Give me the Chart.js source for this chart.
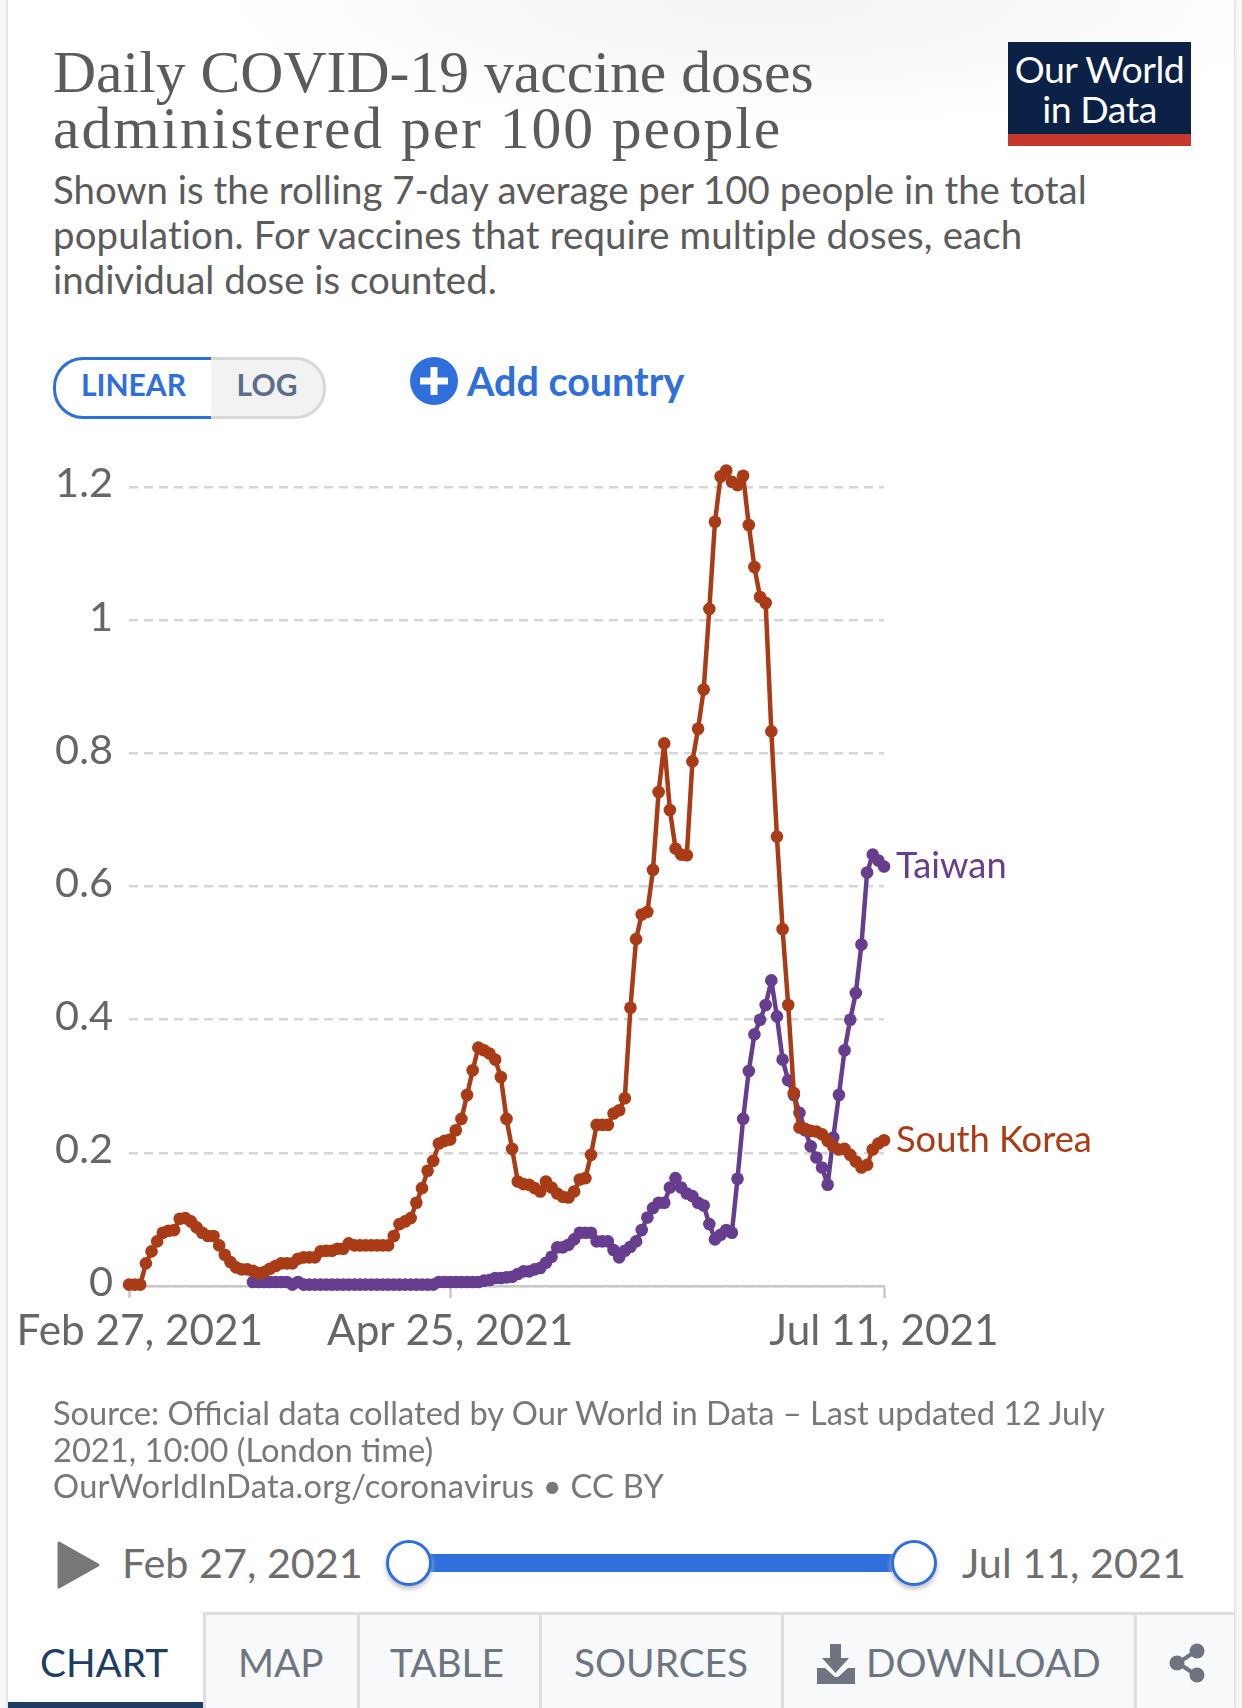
<!doctype html>
<html lang="en">
<head>
<meta charset="utf-8">
<title>Daily COVID-19 vaccine doses administered per 100 people</title>
<style>
  html, body { margin: 0; padding: 0; }
  body { width: 1242px; height: 1708px; background: #f7f7f7; position: relative; overflow: hidden; font-family: Lato, sans-serif; }
  #card { position: absolute; left: 8px; top: 0; width: 1226px; height: 1708px; background: #fff; box-shadow: 0 0 3px #bbb; }
  #glow { position: absolute; left: 8px; top: 0; width: 1226px; height: 130px; background: radial-gradient(ellipse 560px 130px at 62% 0, #f3f3f3, #fff); }
  .t { position: absolute; white-space: nowrap; }
  #title { left: 53px; top: 44px; font: 59.7px/56px "Liberation Serif", serif; color: #5b5b5b; }
  #title span { letter-spacing: 1.9px; }
  #sub { left: 53px; top: 167px; font: 38.4px/45px Lato, sans-serif; color: #5b5b5b; }
  #sub span { letter-spacing: .13px; }
  #logo { position: absolute; left: 1008px; top: 42px; width: 183px; height: 104px; background: #0b2146; color: #fff; text-align: center; font: 37.5px/40px Lato, sans-serif; letter-spacing: -.5px; }
  #logo div { padding-top: 7px; }
  #logo i { position: absolute; left: 0; bottom: 0; width: 100%; height: 12px; background: #c4392c; }
  #linear { position: absolute; left: 53px; top: 357px; width: 155px; height: 56px; border: 3px solid #2f6fdc; border-radius: 30px 0 0 30px; color: #2f6fdc; font: bold 30px/48px Lato, sans-serif; text-align: center; background: #fff; }
  #log { position: absolute; left: 211px; top: 357px; width: 112px; height: 56px; border: 3px solid #d8d8d8; border-left: 0; border-radius: 0 30px 30px 0; background: #f2f2f2; color: #5b6f8a; font: bold 30px/48px Lato, sans-serif; text-align: center; }
  #add { left: 467px; top: 358px; font: bold 39.5px/46px Lato, sans-serif; color: #2f6fdc; }
  #chartbox { position: absolute; left: -30px; top: 360px; width: 1272px; height: 1060px; }
  #foot { left: 53px; top: 1395px; font: 32.65px/36.5px Lato, sans-serif; color: #787878; }
  #foot span { letter-spacing: .26px; }
  .date { top: 1538px; font: 41.3px/48px Lato, sans-serif; color: #6e6e6e; }
  #track { position: absolute; left: 409px; top: 1554px; width: 505px; height: 18px; background: #2f6fdc; }
  .knob { position: absolute; top: 1540px; width: 40px; height: 40px; border: 3.5px solid #2f6fdc; border-radius: 50%; background: #fff; box-shadow: 0 3px 5px #bbb; }
  #tabs { position: absolute; left: 203px; top: 1612px; width: 1031px; height: 96px; background: #f8f9fb; border-top: 3px solid #dedede; box-sizing: border-box; }
  .sep { position: absolute; top: 1612px; width: 3px; height: 96px; background: #dedede; }
  #bar { position: absolute; left: 8px; top: 1702px; width: 195px; height: 6px; background: #1d3d63; }
  .tab { top: 1639px; font: 38.8px/46px Lato, sans-serif; color: #6e7581; }
</style>
</head>
<body>
<div id="card"></div>
<div id="glow"></div>

<div class="t" id="title">Daily COVID-19 vaccine doses<br><span>administered per 100 people</span></div>
<div class="t" id="sub">Shown is the rolling 7-day average per 100 people in the total<br><span>population. For vaccines that require multiple doses, each</span><br>individual dose is counted.</div>
<div id="logo"><div>Our World<br>in Data</div><i></i></div>

<div id="linear">LINEAR</div>
<div id="log">LOG</div>
<svg style="position:absolute;left:410px;top:357px" width="48" height="48"><circle cx="24" cy="24" r="24" fill="#2f6fdc"/><path d="M24 10v28M10 24h28" stroke="#fff" stroke-width="7"/></svg>
<div class="t" id="add">Add country</div>

<div id="chartbox"><canvas id="vaccineChart" width="1272" height="1060"></canvas></div>

<div class="t" id="foot">Source: Official data collated by Our World in Data – Last updated 12 July<br>2021, 10:00 (London time)<br><span>OurWorldInData.org/coronavirus • CC BY</span></div>

<svg style="position:absolute;left:56px;top:1540px" width="46" height="50"><path d="M3 3L42 25L3 47Z" fill="#777" stroke="#777" stroke-width="3" stroke-linejoin="round"/></svg>
<div class="t date" style="left:122px">Feb 27, 2021</div>
<div id="track"></div>
<div class="knob" style="left:386px"></div>
<div class="knob" style="left:891px"></div>
<div class="t date" style="left:962px">Jul 11, 2021</div>

<div id="tabs"></div>
<div class="sep" style="left:203px"></div>
<div class="sep" style="left:357px"></div>
<div class="sep" style="left:539px"></div>
<div class="sep" style="left:781px"></div>
<div class="sep" style="left:1134px"></div>
<div id="bar"></div>
<div class="t tab" style="left:40px;color:#1d3d63">CHART</div>
<div class="t tab" style="left:238px">MAP</div>
<div class="t tab" style="left:390px">TABLE</div>
<div class="t tab" style="left:574px">SOURCES</div>
<svg style="position:absolute;left:816px;top:1644px" width="40" height="40"><path d="M14 0h11v14h8L19.500 29 6 14h8z" fill="#6e7581"/><path d="M1 24h8l10 9 3 0 10-9h7v16H1z" fill="#6e7581"/></svg>
<div class="t tab" style="left:866px">DOWNLOAD</div>
<svg style="position:absolute;left:1168px;top:1643px" width="40" height="40"><path d="M28 8L10 20L28 32" stroke="#6e7581" stroke-width="4" fill="none"/><circle cx="29" cy="8" r="7.500" fill="#6e7581"/><circle cx="9" cy="20" r="7.500" fill="#6e7581"/><circle cx="29" cy="32" r="7.500" fill="#6e7581"/></svg>

<script src="https://cdn.jsdelivr.net/npm/chart.js@4/dist/chart.umd.min.js"></script>
<script>
// daily values, one per day from Feb 27, 2021
const southKorea = [
  .002,.002,.002,.034,.052,.067,.08,.083,.084,.101,
  .102,.097,.088,.08,.075,.075,.061,.047,.036,.028,
  .025,.025,.023,.019,.021,.026,.03,.034,.034,.034,
  .041,.043,.043,.043,.052,.053,.053,.056,.056,.064,
  .061,.061,.061,.061,.061,.061,.061,.075,.093,.097,
  .102,.125,.147,.173,.188,.214,.218,.22,.234,.251,
  .287,.324,.358,.354,.349,.34,.314,.251,.206,.157,
  .153,.152,.147,.142,.157,.148,.139,.134,.133,.142,
  .16,.162,.197,.242,.242,.242,.259,.264,.282,.418,
  .521,.558,.562,.625,.742,.815,.715,.657,.648,.647,
  .788,.837,.896,1.017,1.148,1.216,1.225,1.208,1.203,1.217,
  1.143,1.08,1.035,1.026,.833,.675,.536,.422,.29,.238,
  .236,.233,.232,.228,.218,.21,.205,.206,.197,.187,
  .178,.182,.205,.214,.219
];
const taiwan = [
  null,null,null,null,null,null,null,null,null,null,
  null,null,null,null,null,null,null,null,null,null,
  null,null,.006,.006,.006,.006,.006,.006,.006,.002,
  .006,.002,.002,.002,.002,.002,.002,.002,.002,.002,
  .002,.002,.002,.002,.002,.002,.002,.002,.002,.002,
  .002,.002,.002,.002,.002,.006,.006,.006,.006,.006,
  .006,.006,.006,.008,.009,.012,.012,.013,.014,.018,
  .022,.022,.025,.027,.035,.044,.058,.058,.062,.07,
  .08,.08,.08,.067,.067,.067,.054,.043,.053,.059,
  .067,.084,.103,.117,.125,.125,.148,.162,.148,.139,
  .135,.125,.121,.093,.07,.077,.084,.08,.161,.251,
  .323,.378,.4,.422,.459,.405,.34,.309,.287,.26,
  .234,.21,.193,.178,.152,.223,.287,.354,.4,.44,
  .513,.621,.648,.639,.63
];
const seriesNames = ['South Korea', 'Taiwan'];
const seriesColors = ['#a93c16', '#673d8f'];
const xTickLabels = ['Feb 27, 2021', 'Apr 25, 2021', 'Jul 11, 2021'];
const yTickValues = [0, 0.2, 0.4, 0.6, 0.8, 1, 1.2];

const days = southKorea.map((v, i) => new Date(Date.UTC(2021, 1, 27 + i))
  .toLocaleDateString('en-US', {month: 'short', day: 'numeric', year: 'numeric', timeZone: 'UTC'}));

// names at the end of each line
const endLabels = {
  id: 'endLabels',
  afterDatasetsDraw(chart) {
    const ctx = chart.ctx;
    ctx.save();
    ctx.font = '36.3px Lato';
    ctx.textBaseline = 'middle';
    chart.data.datasets.forEach((ds) => {
      const last = ds.data.length - 1;
      ctx.fillStyle = ds.borderColor;
      ctx.fillText(ds.label, chart.scales.x.getPixelForValue(last) + 12, chart.scales.y.getPixelForValue(ds.data[last]));
    });
    ctx.restore();
  }
};

new Chart(document.getElementById('vaccineChart').getContext('2d'), {
  type: 'line',
  plugins: [endLabels],
  data: {
    labels: days,
    datasets: [southKorea, taiwan].map((values, i) => ({
      label: seriesNames[i],
      data: values,
      borderColor: seriesColors[i],
      backgroundColor: seriesColors[i],
      borderWidth: 4.500,
      borderJoinStyle: 'round',
      pointRadius: 6.300,
      pointBorderWidth: 0,
      tension: 0,
      clip: false
    }))
  },
  options: {
    responsive: false,
    animation: false,
    devicePixelRatio: 1,
    // y axis runs past 1.2 so the peak points are inside the area
    layout: {padding: {top: 60.5, right: 358, bottom: 54, left: 0}},
    plugins: {legend: {display: false}, tooltip: {enabled: false}},
    scales: {
      x: {
        type: 'category',
        offset: false,
        afterFit: (scale) => { scale.height = 80; },
        border: {display: true, color: '#c8c8c8', width: 2.500},
        grid: {
          drawOnChartArea: false,
          drawTicks: true,
          tickLength: 12,
          tickWidth: 2.500,
          tickColor: (c) => xTickLabels.includes(days[c.index]) ? '#c8c8c8' : 'transparent'
        },
        ticks: {
          autoSkip: false,
          maxRotation: 0,
          minRotation: 0,
          padding: 8,
          color: '#666',
          font: {family: 'Lato', size: 42.3},
          callback: (value, index) => {
            if (!xTickLabels.includes(days[index])) return '';
            return index === 0 ? '  ' + days[index] : days[index];
          }
        }
      },
      y: {
        min: 0,
        max: 1.3,
        afterFit: (scale) => { scale.width = 159; },
        afterBuildTicks: (scale) => { scale.ticks = yTickValues.map((v) => ({value: v})); },
        border: {display: false, dash: [9, 6]},
        grid: {color: '#d6d6d6', lineWidth: 2.600, drawTicks: false},
        ticks: {
          padding: 16,
          labelOffset: -3,
          color: '#666',
          font: {family: 'Lato', size: 41.5},
          callback: (v) => String(v)
        }
      }
    }
  }
});
</script>
</body>
</html>
